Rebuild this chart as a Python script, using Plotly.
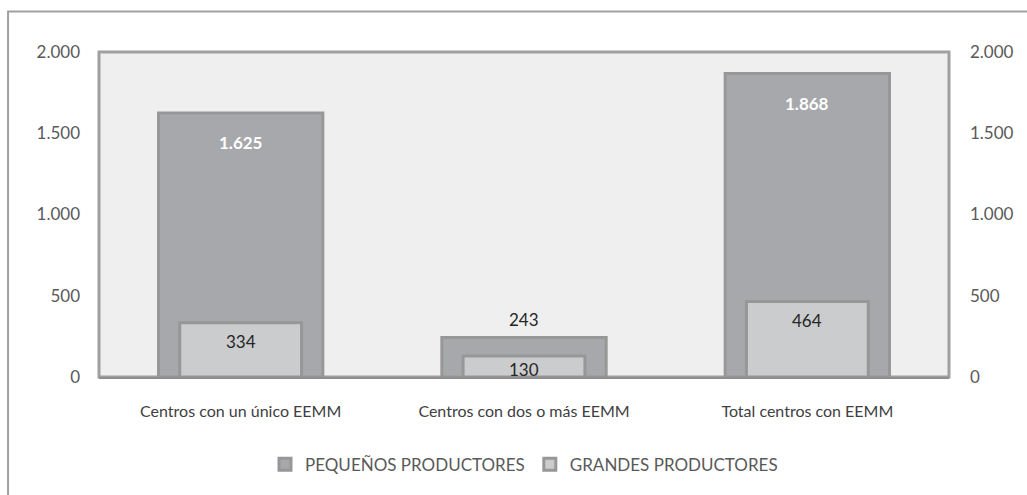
import plotly.graph_objects as go

categorias = ["Centros con un único EEMM", "Centros con dos o más EEMM", "Total centros con EEMM"]
pequenos = [1625, 243, 1868]
grandes = [334, 130, 464]
ticks_y = [0, 500, 1000, 1500, 2000]
tick_txt = ["0", "500", "1.000", "1.500", "2.000"]

FONT = "Lato"
C_PEQ = "#A7A8AB"
C_GRA = "#CBCCCE"
C_EDGE = "#979797"


def fmt(v):
    return f"{v:,}".replace(",", ".")


fig = go.Figure()
fig.add_trace(go.Bar(
    x=categorias, y=pequenos, name="PEQUEÑOS PRODUCTORES",
    marker=dict(color=C_PEQ, line=dict(color=C_EDGE, width=3)),
    width=0.58, hoverinfo="skip",
))
fig.add_trace(go.Bar(
    x=categorias, y=grandes, name="GRANDES PRODUCTORES",
    marker=dict(color=C_GRA, line=dict(color=C_EDGE, width=3)),
    width=0.43, hoverinfo="skip",
))
# empty trace so the right-hand axis is drawn
fig.add_trace(go.Scatter(x=[categorias[0]], y=[None], yaxis="y2",
                         showlegend=False, hoverinfo="skip"))

annotations = []
for cat, v in zip(categorias, pequenos):
    inside = v > 800
    annotations.append(dict(
        x=cat, y=v, text=fmt(v), showarrow=False, yanchor="middle",
        yshift=-30 if inside else 18,
        font=dict(family=FONT, size=17, color="#FFFFFF" if inside else "#262626",
                  weight="bold" if inside else "normal"),
    ))
for cat, v in zip(categorias, grandes):
    annotations.append(dict(
        x=cat, y=v, text=fmt(v), showarrow=False, yanchor="middle",
        yshift=-19 if v > 200 else -14,
        font=dict(family=FONT, size=17, color="#262626"),
    ))

axis_common = dict(
    range=[0, 2000], tickvals=ticks_y, ticktext=tick_txt,
    showgrid=False, zeroline=False, showline=False, ticks="",
    tickfont=dict(family=FONT, size=17, color="#595959"),
    fixedrange=True,
)

fig.update_layout(
    width=1027, height=495,
    margin=dict(l=99, r=78, t=52, b=115),
    paper_bgcolor="white", plot_bgcolor="#EFEFEF",
    barmode="overlay", bargap=0.4,
    separators=",.",
    font=dict(family=FONT, size=16, color="#404040"),
    xaxis=dict(
        showline=True, linecolor="#8E8E8E", linewidth=2, ticks="",
        tickfont=dict(family=FONT, size=16, color="#404040"),
        ticklabelstandoff=19, fixedrange=True,
    ),
    yaxis=dict(axis_common, ticklabelstandoff=18),
    yaxis2=dict(axis_common, overlaying="y", side="right", ticklabelstandoff=20),
    legend=dict(
        orientation="h", x=0.5, xanchor="center", y=-0.27, yanchor="middle",
        font=dict(family=FONT, size=17, color="#595959"),
        itemwidth=30, traceorder="normal",
    ),
    annotations=annotations,
    shapes=[
        # plot area border
        dict(type="rect", xref="paper", yref="paper", x0=0, x1=1, y0=0, y1=1,
             line=dict(color="#A0A0A0", width=3), layer="below"),
        # outer chart frame
        dict(type="rect", xref="paper", yref="paper", x0=-0.107, x1=1.12,
             y0=-0.45, y1=1.125, line=dict(color="#A0A0A0", width=2), layer="below"),
    ],
    showlegend=True,
)

fig.write_html("out.html")
